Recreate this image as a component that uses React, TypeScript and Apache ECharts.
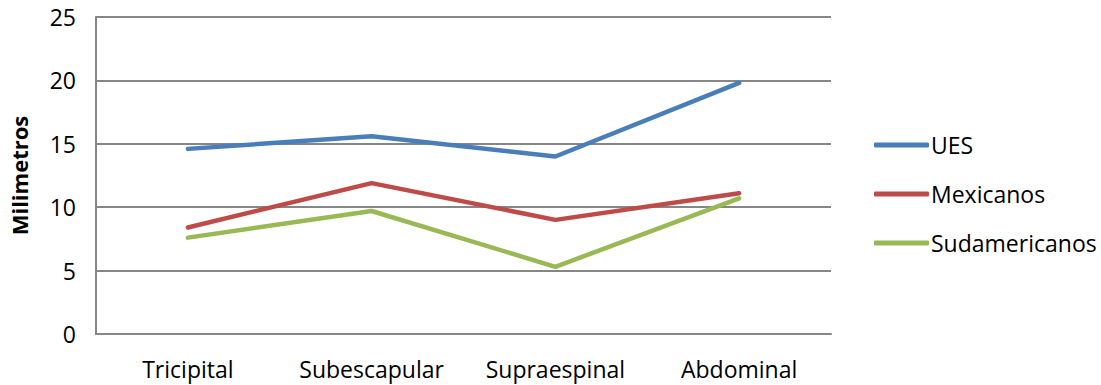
import React, { useEffect, useRef } from "react";
import * as echarts from "echarts";

const categories = ["Tricipital", "Subescapular", "Supraespinal", "Abdominal"];
const seriesNames = ["UES", "Mexicanos", "Sudamericanos"];
const ues = [14.6, 15.6, 14.0, 19.8];
const mexicanos = [8.4, 11.9, 9.0, 11.1];
const sudamericanos = [7.6, 9.7, 5.3, 10.7];
const colors = ["#4A7EBB", "#BE4B48", "#98B954"];

const FONT = "'Open Sans', 'Noto Sans', sans-serif";

export default function App() {
  const ref = useRef<HTMLDivElement>(null);

  useEffect(() => {
    document.body.style.margin = "0";
    if (!ref.current) return;
    const chart = echarts.init(ref.current, undefined, { renderer: "svg" });
    const values = [ues, mexicanos, sudamericanos];
    chart.setOption({
      animation: false,
      backgroundColor: "#ffffff",
      textStyle: { fontFamily: FONT },
      grid: { left: 95, right: 270, top: 17, bottom: 51, containLabel: false },
      xAxis: {
        type: "category",
        data: categories,
        boundaryGap: true,
        axisLine: { show: true, lineStyle: { color: "#868686", width: 2 } },
        axisTick: { show: false },
        axisLabel: {
          color: "#000",
          fontSize: 23,
          fontFamily: FONT,
          margin: 23,
          interval: 0,
          hideOverlap: false,
        },
      },
      yAxis: {
        type: "value",
        min: 0,
        max: 25,
        interval: 5,
        name: "Milimetros",
        nameLocation: "middle",
        nameGap: 66,
        nameTextStyle: { color: "#000", fontSize: 22, fontWeight: "bold", fontFamily: FONT },
        axisLine: { show: true, lineStyle: { color: "#868686", width: 2 } },
        axisTick: { show: false },
        axisLabel: { color: "#000", fontSize: 23, fontFamily: FONT, margin: 20 },
        splitLine: { show: true, lineStyle: { color: "#868686", width: 2 } },
      },
      legend: {
        orient: "vertical",
        left: 869,
        top: 125,
        itemWidth: 55,
        itemHeight: 5,
        itemGap: 19,
        icon: "roundRect",
        textStyle: { color: "#000", fontSize: 23, fontFamily: FONT, lineHeight: 30, padding: [0, 0, 0, -3] },
        data: seriesNames,
      },
      series: seriesNames.map((name, i) => ({
        name,
        type: "line",
        data: values[i],
        symbol: "none",
        color: colors[i],
        lineStyle: { width: 4.5, color: colors[i], cap: "round", join: "round" },
      })),
    });
    return () => chart.dispose();
  }, []);

  return <div ref={ref} style={{ width: 1101, height: 385 }} />;
}
